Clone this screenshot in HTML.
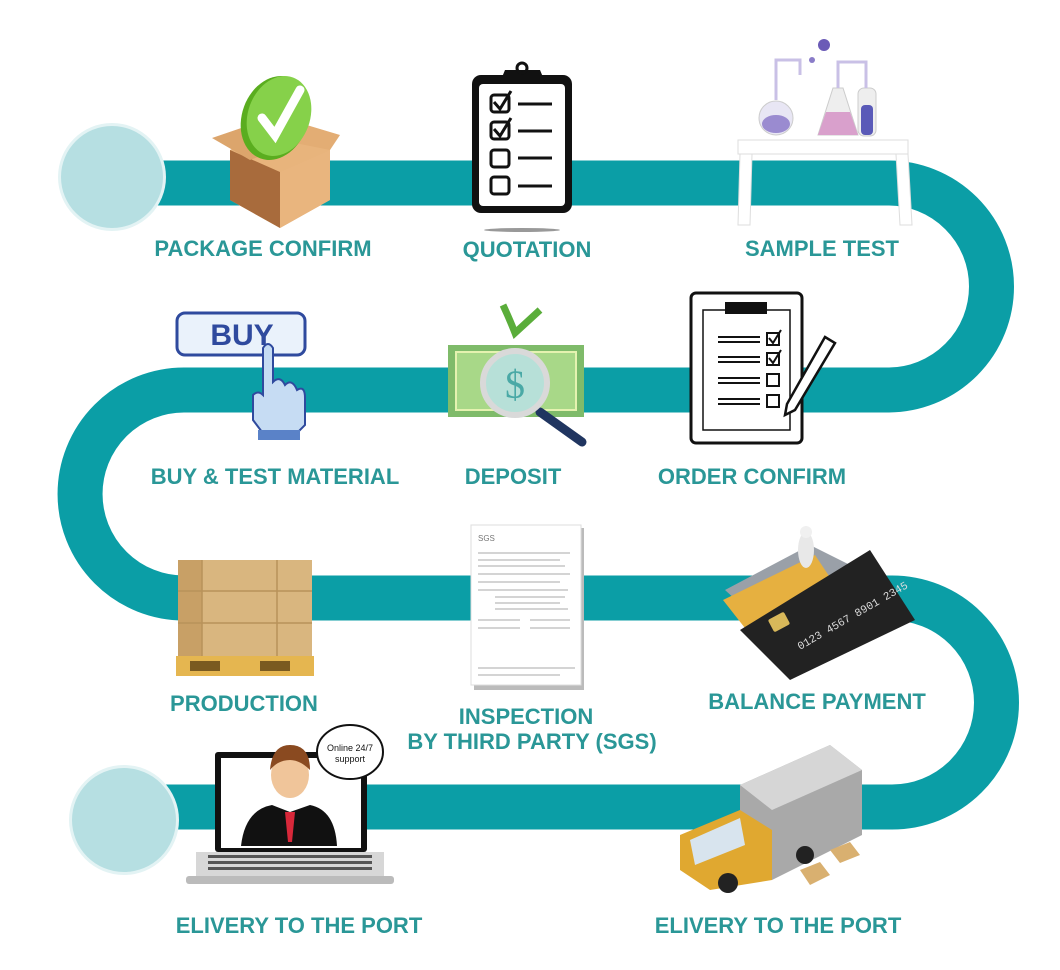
<!DOCTYPE html>
<html><head><meta charset="utf-8"><style>
html,body{margin:0;padding:0;background:#fff;}
svg{display:block;}
text.l{font-family:"Liberation Sans",sans-serif;font-weight:bold;font-size:22px;fill:#2a9797;}
</style></head><body>
<svg width="1060" height="970" viewBox="0 0 1060 970" xmlns="http://www.w3.org/2000/svg">
<!-- serpentine band -->
<path d="M110 183 H888 A103.5 103.5 0 0 1 888 390 H184 A104 104 0 0 0 184 598 H892 A104.5 104.5 0 0 1 892 807 H124" fill="none" stroke="#0b9ea6" stroke-width="45"/>
<circle cx="112" cy="177" r="54" fill="#e3f3f4"/>
<circle cx="112" cy="177" r="51" fill="#b6dfe2"/>
<circle cx="124" cy="820" r="55" fill="#e3f3f4"/>
<circle cx="124" cy="820" r="52" fill="#b6dfe2"/>

<!-- 1 box with check -->
<g>
<polygon points="230,150 290,120 330,140 330,200 280,228 230,200" fill="#e8b47c"/>
<polygon points="230,150 280,172 280,228 230,200" fill="#a86b3c"/>
<polygon points="280,172 330,150 330,200 280,228" fill="#e9b57e"/>
<polygon points="212,138 250,125 290,145 250,160" fill="#dca56c"/>
<polygon points="290,120 340,135 330,150 280,140" fill="#e3ad74"/>
<ellipse cx="275" cy="118" rx="33" ry="43" transform="rotate(20 275 118)" fill="#5aad1f"/>
<ellipse cx="279" cy="116" rx="31" ry="41" transform="rotate(20 279 116)" fill="#86d14a"/>
<path d="M262 118 L275 135 L300 90" fill="none" stroke="#fff" stroke-width="9" stroke-linecap="round"/>
</g>

<!-- 2 clipboard -->
<g>
<rect x="472" y="75" width="100" height="138" rx="9" fill="#111"/>
<rect x="479" y="84" width="86" height="122" rx="4" fill="#fff"/>
<path d="M500 82 L505 70 H540 L545 82 Z" fill="#111"/>
<circle cx="522" cy="68" r="5" fill="none" stroke="#111" stroke-width="3"/>
<g fill="none" stroke="#111" stroke-width="3">
<rect x="491" y="95" width="18" height="17" rx="3"/><rect x="491" y="122" width="18" height="17" rx="3"/>
<rect x="491" y="150" width="18" height="17" rx="3"/><rect x="491" y="177" width="18" height="17" rx="3"/>
<path d="M494 102 L500 109 L511 91"/><path d="M494 129 L500 136 L511 118"/>
<path d="M518 104 H552 M518 131 H552 M518 158 H552 M518 186 H552"/>
</g>
<ellipse cx="522" cy="230" rx="38" ry="2" fill="#999"/>
</g>

<!-- 3 lab -->
<g>
<rect x="738" y="140" width="170" height="14" fill="#fff" stroke="#ddd"/>
<polygon points="740,154 752,154 750,225 738,225" fill="#fff" stroke="#ddd"/>
<polygon points="896,154 908,154 912,225 900,225" fill="#fff" stroke="#ddd"/>
<circle cx="776" cy="118" r="17" fill="#e8e6f4" stroke="#ccc"/>
<ellipse cx="776" cy="124" rx="14" ry="9" fill="#9a8bd0"/>
<polygon points="833,88 843,88 858,135 818,135" fill="#eee" stroke="#ccc"/>
<polygon points="826,112 850,112 858,135 818,135" fill="#d9a0cc"/>
<rect x="858" y="88" width="18" height="48" rx="6" fill="#eee" stroke="#ccc"/>
<rect x="861" y="105" width="12" height="30" rx="4" fill="#5a5ab8"/>
<path d="M776 100 V60 H800 V75 M838 88 V62 H866 V88" fill="none" stroke="#c9c0e6" stroke-width="3"/>
<circle cx="824" cy="45" r="6" fill="#6b5bb7"/>
<circle cx="812" cy="60" r="3" fill="#8a7cc8"/>
</g>

<!-- 4 BUY -->
<g>
<rect x="177" y="313" width="128" height="42" rx="8" fill="#eaf2fb" stroke="#2f4a9e" stroke-width="3"/>
<text x="242" y="345" text-anchor="middle" font-family="Liberation Sans,sans-serif" font-weight="bold" font-size="30" fill="#2f4a9e">BUY</text>
<path d="M263 348 Q268 340 273 348 V382 Q280 375 285 385 Q292 378 297 390 Q305 385 305 398 V425 L298 432 H262 L253 420 V395 Q258 390 263 395 Z" fill="#c6dcf3" stroke="#2f4a9e" stroke-width="2"/>
<rect x="258" y="430" width="42" height="10" fill="#5a82c8"/>
</g>

<!-- 5 money -->
<g>
<path d="M503 305 Q510 320 515 333 L540 310" fill="none" stroke="#5aad3a" stroke-width="7"/>
<rect x="448" y="345" width="136" height="72" fill="#7fbb6a"/>
<rect x="456" y="352" width="120" height="58" fill="#a8d888" stroke="#e5f2b0" stroke-width="2"/>
<line x1="540" y1="412" x2="582" y2="442" stroke="#203560" stroke-width="9" stroke-linecap="round"/>
<circle cx="515" cy="383" r="32" fill="#b7e0d8" stroke="#d9d9d9" stroke-width="6"/>
<text x="515" y="398" text-anchor="middle" font-family="Liberation Serif,serif" font-size="40" fill="#4aa9a6">$</text>
</g>

<!-- 6 order -->
<g>
<rect x="691" y="293" width="111" height="150" rx="5" fill="#fff" stroke="#111" stroke-width="3"/>
<rect x="703" y="310" width="87" height="120" fill="#fff" stroke="#111" stroke-width="1.5"/>
<rect x="725" y="302" width="42" height="12" fill="#111"/>
<g stroke="#111" stroke-width="2" fill="none">
<path d="M718 337 H760 M718 342 H760 M718 357 H760 M718 362 H760 M718 378 H760 M718 383 H760 M718 399 H760 M718 404 H760"/>
<rect x="767" y="333" width="12" height="12"/><rect x="767" y="353" width="12" height="12"/>
<rect x="767" y="374" width="12" height="12"/><rect x="767" y="395" width="12" height="12"/>
<path d="M769 338 L773 343 L781 330 M769 358 L773 363 L781 350"/>
</g>
<polygon points="825,337 835,343 795,410 785,415 787,404" fill="#fff" stroke="#111" stroke-width="2.5"/>
</g>

<!-- 7 pallet -->
<g>
<rect x="178" y="560" width="134" height="96" fill="#d9b67f"/>
<rect x="178" y="560" width="24" height="96" fill="#c8a066"/>
<g stroke="#b8925a" stroke-width="1.5">
<line x1="178" y1="591" x2="312" y2="591"/><line x1="178" y1="623" x2="312" y2="623"/>
<line x1="202" y1="560" x2="202" y2="656"/><line x1="277" y1="560" x2="277" y2="656"/>
</g>
<rect x="176" y="656" width="138" height="20" fill="#e5b650"/>
<rect x="190" y="661" width="30" height="10" fill="#7a5a20"/><rect x="260" y="661" width="30" height="10" fill="#7a5a20"/>
</g>

<!-- 8 SGS doc -->
<g>
<rect x="474" y="528" width="110" height="162" fill="#bbb"/>
<rect x="471" y="525" width="110" height="160" fill="#fff" stroke="#ddd"/>
<text x="478" y="541" font-family="Liberation Sans,sans-serif" font-size="8" fill="#777">SGS</text>
<g stroke="#aaa" stroke-width="1">
<path d="M478 553 H570 M478 560 H560 M478 566 H565 M478 574 H570 M478 582 H560 M478 590 H568 M495 597 H565 M495 603 H560 M495 609 H568 M478 620 H520 M530 620 H570 M478 628 H520 M530 628 H570 M478 668 H575 M478 675 H560"/>
</g>
</g>

<!-- 9 cards -->
<g>
<polygon points="725,590 810,545 860,570 780,640" fill="#9aa0a8"/>
<polygon points="723,600 815,555 855,615 770,660" fill="#e6b040"/>
<polygon points="740,630 870,550 915,620 790,680" fill="#222"/>
<rect x="770" y="615" width="18" height="14" rx="2" fill="#d8b85a" transform="rotate(-28 779 622)"/>
<text x="800" y="650" font-family="Liberation Mono,monospace" font-size="11" fill="#ddd" transform="rotate(-30 800 650)">0123 4567 8901 2345</text>
<ellipse cx="806" cy="550" rx="8" ry="18" fill="#e8e8e8"/>
<circle cx="806" cy="532" r="6" fill="#f0f0f0"/>
</g>

<!-- 10 laptop -->
<g>
<rect x="215" y="752" width="152" height="100" rx="3" fill="#111"/>
<rect x="221" y="758" width="140" height="90" fill="#fff"/>
<path d="M241 846 Q245 810 272 805 L290 812 L310 805 Q335 810 337 846 Z" fill="#111"/>
<polygon points="285,812 295,812 292,842 288,842" fill="#d8283a"/>
<ellipse cx="290" cy="775" rx="19" ry="23" fill="#f0c59a"/>
<path d="M270 770 Q272 745 290 745 Q310 745 310 770 Q300 760 290 760 Q278 760 270 770Z" fill="#8a4a20"/>
<rect x="196" y="852" width="188" height="26" fill="#d7d7d7"/>
<rect x="186" y="876" width="208" height="8" rx="3" fill="#bbb"/>
<g fill="#555"><rect x="208" y="855" width="164" height="3"/><rect x="208" y="861" width="164" height="3"/><rect x="208" y="867" width="164" height="3"/></g>
<ellipse cx="350" cy="752" rx="33" ry="27" fill="#fff" stroke="#111" stroke-width="2"/>
<text x="350" y="751" text-anchor="middle" font-family="Liberation Sans,sans-serif" font-size="9" fill="#111">Online 24/7</text>
<text x="350" y="762" text-anchor="middle" font-family="Liberation Sans,sans-serif" font-size="9" fill="#111">support</text>
</g>

<!-- 11 truck -->
<g>
<polygon points="740,785 830,745 862,770 862,835 772,880 740,855" fill="#a9a9a9"/>
<polygon points="740,785 830,745 862,770 772,810" fill="#d6d6d6"/>
<polygon points="680,835 740,810 772,830 772,880 710,890 680,870" fill="#e0a830"/>
<polygon points="690,840 740,818 745,845 695,865" fill="#d8e4ee"/>
<circle cx="728" cy="883" r="10" fill="#222"/><circle cx="805" cy="855" r="9" fill="#222"/>
<polygon points="800,870 820,862 830,875 810,885" fill="#d9b070"/>
<polygon points="830,850 850,842 860,855 840,863" fill="#d9b070"/>
</g>

<!-- labels -->
<text class="l" x="263" y="256" text-anchor="middle">PACKAGE CONFIRM</text>
<text class="l" x="527" y="257" text-anchor="middle">QUOTATION</text>
<text class="l" x="822" y="256" text-anchor="middle">SAMPLE TEST</text>
<text class="l" x="275" y="484" text-anchor="middle">BUY &amp; TEST MATERIAL</text>
<text class="l" x="513" y="484" text-anchor="middle">DEPOSIT</text>
<text class="l" x="752" y="484" text-anchor="middle">ORDER CONFIRM</text>
<text class="l" x="244" y="711" text-anchor="middle">PRODUCTION</text>
<text class="l" x="526" y="724" text-anchor="middle">INSPECTION</text>
<text class="l" x="532" y="749" text-anchor="middle">BY THIRD PARTY (SGS)</text>
<text class="l" x="817" y="709" text-anchor="middle">BALANCE PAYMENT</text>
<text class="l" x="299" y="933" text-anchor="middle">ELIVERY TO THE PORT</text>
<text class="l" x="778" y="933" text-anchor="middle">ELIVERY TO THE PORT</text>
</svg>
</body></html>
